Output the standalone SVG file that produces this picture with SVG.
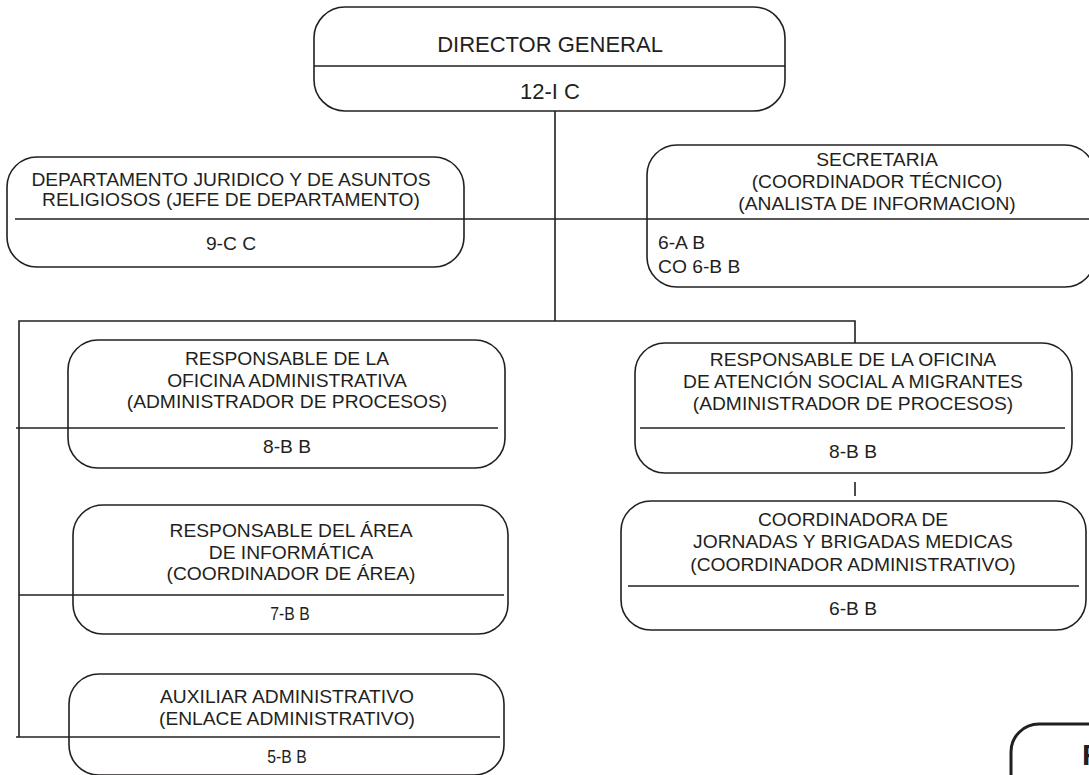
<svg xmlns="http://www.w3.org/2000/svg" width="1089" height="775" viewBox="0 0 1089 775">
<style>
.box{fill:none;stroke:#231f20;stroke-width:1.6}
.ln{fill:none;stroke:#231f20;stroke-width:1.6}
.t{font-family:"Liberation Sans",Arial,sans-serif;font-size:17.5px;fill:#231f20;text-anchor:middle}
.tl{font-family:"Liberation Sans",Arial,sans-serif;font-size:17.5px;fill:#231f20;text-anchor:start}
.big{font-family:"Liberation Sans",Arial,sans-serif;font-size:22px;fill:#231f20;text-anchor:middle}
</style>
<rect width="1089" height="775" fill="#ffffff"/>
<g id="connectors">
<line class="ln" x1="555" y1="111" x2="555" y2="321"/>
<line class="ln" x1="15" y1="219" x2="1095" y2="219"/>
<polyline class="ln" points="19,737 19,321 855,321 855,343"/>
<line class="ln" x1="16" y1="428" x2="68" y2="428"/>
<line class="ln" x1="19" y1="595" x2="73" y2="595"/>
<line class="ln" x1="16" y1="737" x2="69" y2="737"/>
<line class="ln" x1="855" y1="482" x2="855" y2="496"/>
</g>
<g id="director">
<rect class="box" x="314" y="7" width="471" height="104" rx="31"/>
<line class="ln" x1="314" y1="66" x2="785" y2="66"/>
<text class="big" x="550" y="52">DIRECTOR GENERAL</text>
<text class="big" x="550" y="99">12-I C</text>
</g>
<g id="juridico">
<rect class="box" x="7" y="157" width="457" height="110" rx="30"/>
<g transform="translate(231,0) scale(1.1,1)">
<text class="t" x="0" y="186">DEPARTAMENTO JURIDICO Y DE ASUNTOS</text>
<text class="t" x="0" y="206">RELIGIOSOS (JEFE DE DEPARTAMENTO)</text>
<text class="t" x="0" y="250">9-C C</text>
</g>
</g>
<g id="secretaria">
<rect class="box" x="647" y="145" width="448" height="142" rx="30"/>
<g transform="translate(877,0) scale(1.1,1)">
<text class="t" x="0" y="166">SECRETARIA</text>
<text class="t" x="0" y="188">(COORDINADOR TÉCNICO)</text>
<text class="t" x="0" y="210">(ANALISTA DE INFORMACION)</text>
</g>
<g transform="translate(658,0) scale(1.1,1)">
<text class="tl" x="0" y="249">6-A B</text>
<text class="tl" x="0" y="273">CO 6-B B</text>
</g>
</g>
<g id="oficina-administrativa">
<rect class="box" x="68" y="340" width="437" height="128" rx="30"/>
<line class="ln" x1="68" y1="428" x2="498" y2="428"/>
<g transform="translate(287,0) scale(1.1,1)">
<text class="t" x="0" y="365">RESPONSABLE DE LA</text>
<text class="t" x="0" y="387">OFICINA ADMINISTRATIVA</text>
<text class="t" x="0" y="408">(ADMINISTRADOR DE PROCESOS)</text>
<text class="t" x="0" y="453">8-B B</text>
</g>
</g>
<g id="atencion-migrantes">
<rect class="box" x="635" y="343" width="437" height="130" rx="30"/>
<line class="ln" x1="640" y1="428" x2="1065" y2="428"/>
<g transform="translate(853,0) scale(1.1,1)">
<text class="t" x="0" y="366">RESPONSABLE DE LA OFICINA</text>
<text class="t" x="0" y="388">DE ATENCIÓN SOCIAL A MIGRANTES</text>
<text class="t" x="0" y="410">(ADMINISTRADOR DE PROCESOS)</text>
<text class="t" x="0" y="458">8-B B</text>
</g>
</g>
<g id="coordinadora-jornadas">
<rect class="box" x="621" y="501" width="465" height="129" rx="30"/>
<line class="ln" x1="628" y1="586" x2="1079" y2="586"/>
<g transform="translate(853,0) scale(1.1,1)">
<text class="t" x="0" y="526">COORDINADORA DE</text>
<text class="t" x="0" y="548">JORNADAS Y BRIGADAS MEDICAS</text>
<text class="t" x="0" y="571">(COORDINADOR ADMINISTRATIVO)</text>
<text class="t" x="0" y="615">6-B B</text>
</g>
</g>
<g id="area-informatica">
<rect class="box" x="73" y="505" width="435" height="129" rx="30"/>
<line class="ln" x1="73" y1="595" x2="504" y2="595"/>
<g transform="translate(291,0) scale(1.1,1)">
<text class="t" x="0" y="537">RESPONSABLE DEL ÁREA</text>
<text class="t" x="0" y="559">DE INFORMÁTICA</text>
<text class="t" x="0" y="580">(COORDINADOR DE ÁREA)</text>
</g>
<g transform="translate(290,0) scale(0.9,1)">
<text class="t" x="0" y="620">7-B B</text>
</g>
</g>
<g id="auxiliar-administrativo">
<rect class="box" x="69" y="674" width="435" height="101" rx="30"/>
<line class="ln" x1="69" y1="737" x2="500" y2="737"/>
<g transform="translate(287,0) scale(1.1,1)">
<text class="t" x="0" y="703">AUXILIAR ADMINISTRATIVO</text>
<text class="t" x="0" y="725">(ENLACE ADMINISTRATIVO)</text>
</g>
<g transform="translate(287,0) scale(0.9,1)">
<text class="t" x="0" y="763">5-B B</text>
</g>
</g>
<g id="partial-box">
<rect x="1011" y="724" width="200" height="200" rx="28" fill="none" stroke="#231f20" stroke-width="3"/>
<text x="1082" y="765" font-family="Liberation Sans, Arial, sans-serif" font-size="30" font-weight="bold" fill="#231f20">F</text>
</g>
</svg>
